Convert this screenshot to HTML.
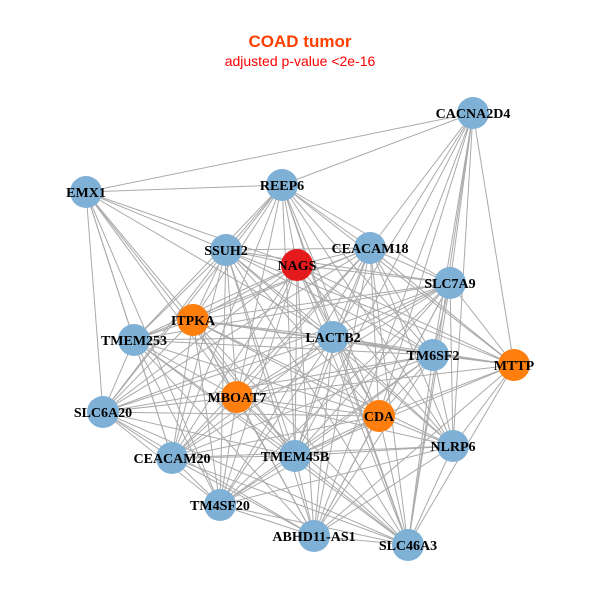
<!DOCTYPE html>
<html><head><meta charset="utf-8"><style>
html,body{margin:0;padding:0;background:#fff;}
svg{display:block;}
</style></head><body>
<svg id="s" width="600" height="600" xmlns="http://www.w3.org/2000/svg">
<rect width="600" height="600" fill="#fff"/>
<text x="300" y="47" text-anchor="middle" font-family="Liberation Sans, sans-serif" font-weight="bold" font-size="17" fill="#ff3f00">COAD tumor</text>
<text x="300" y="66" text-anchor="middle" font-family="Liberation Sans, sans-serif" font-size="14" fill="#ff0000">adjusted p-value &lt;2e-16</text>
<g id="e" stroke="#aaaaaa" stroke-width="1"></g>
<g id="n"></g>
</svg>
<script>
var N=[["CACNA2D4",473,113,0],["EMX1",86,192,0],["REEP6",282,185,0],["SSUH2",226,250,0],["NAGS",297,265,2],["CEACAM18",370,248,0],["SLC7A9",450,283,0],["ITPKA",193,320,1],["TMEM253",134,340,0],["LACTB2",333,337,0],["TM6SF2",433,355,0],["MTTP",514,365,1],["MBOAT7",237,397,1],["SLC6A20",103,412,0],["CDA",379,416,1],["NLRP6",453,446,0],["CEACAM20",172,458,0],["TMEM45B",295,456,0],["TM4SF20",220,505,0],["ABHD11-AS1",314,536,0],["SLC46A3",408,545,0]];
var skip={"0-3":1,"0-7":1,"0-8":1,"0-13":1,"0-16":1,"0-18":1,"0-12":1,"0-4":1,"1-6":1,"1-10":1,"1-11":1,"1-15":1,"1-14":1,"1-20":1,"1-5":1,"1-19":1,"11-13":1,"11-8":1,"11-16":1,"11-18":1,"11-7":1,"11-3":1,"13-6":1,"13-10":1,"13-15":1,"13-5":1,"8-15":1,"8-11":1,"2-18":1,"2-19":1};
var S="http://www.w3.org/2000/svg",E=document.getElementById("e"),G=document.getElementById("n");
for(var i=0;i<N.length;i++)for(var j=i+1;j<N.length;j++){if(skip[i+"-"+j])continue;var l=document.createElementNS(S,"line");l.setAttribute("x1",N[i][1]);l.setAttribute("y1",N[i][2]);l.setAttribute("x2",N[j][1]);l.setAttribute("y2",N[j][2]);E.appendChild(l);}
var C=["#7fb0d6","#ff7f0e","#e41a1c"];
N.forEach(function(d){var c=document.createElementNS(S,"circle");c.setAttribute("cx",d[1]);c.setAttribute("cy",d[2]);c.setAttribute("r",16);c.setAttribute("fill",C[d[3]]);G.appendChild(c);});
N.forEach(function(d){var t=document.createElementNS(S,"text");t.setAttribute("x",d[1]);t.setAttribute("y",d[2]+5);t.setAttribute("text-anchor","middle");t.setAttribute("font-family","Liberation Serif, serif");t.setAttribute("font-weight","bold");t.setAttribute("font-size","14");t.textContent=d[0];G.appendChild(t);});
</script>
</body></html>
